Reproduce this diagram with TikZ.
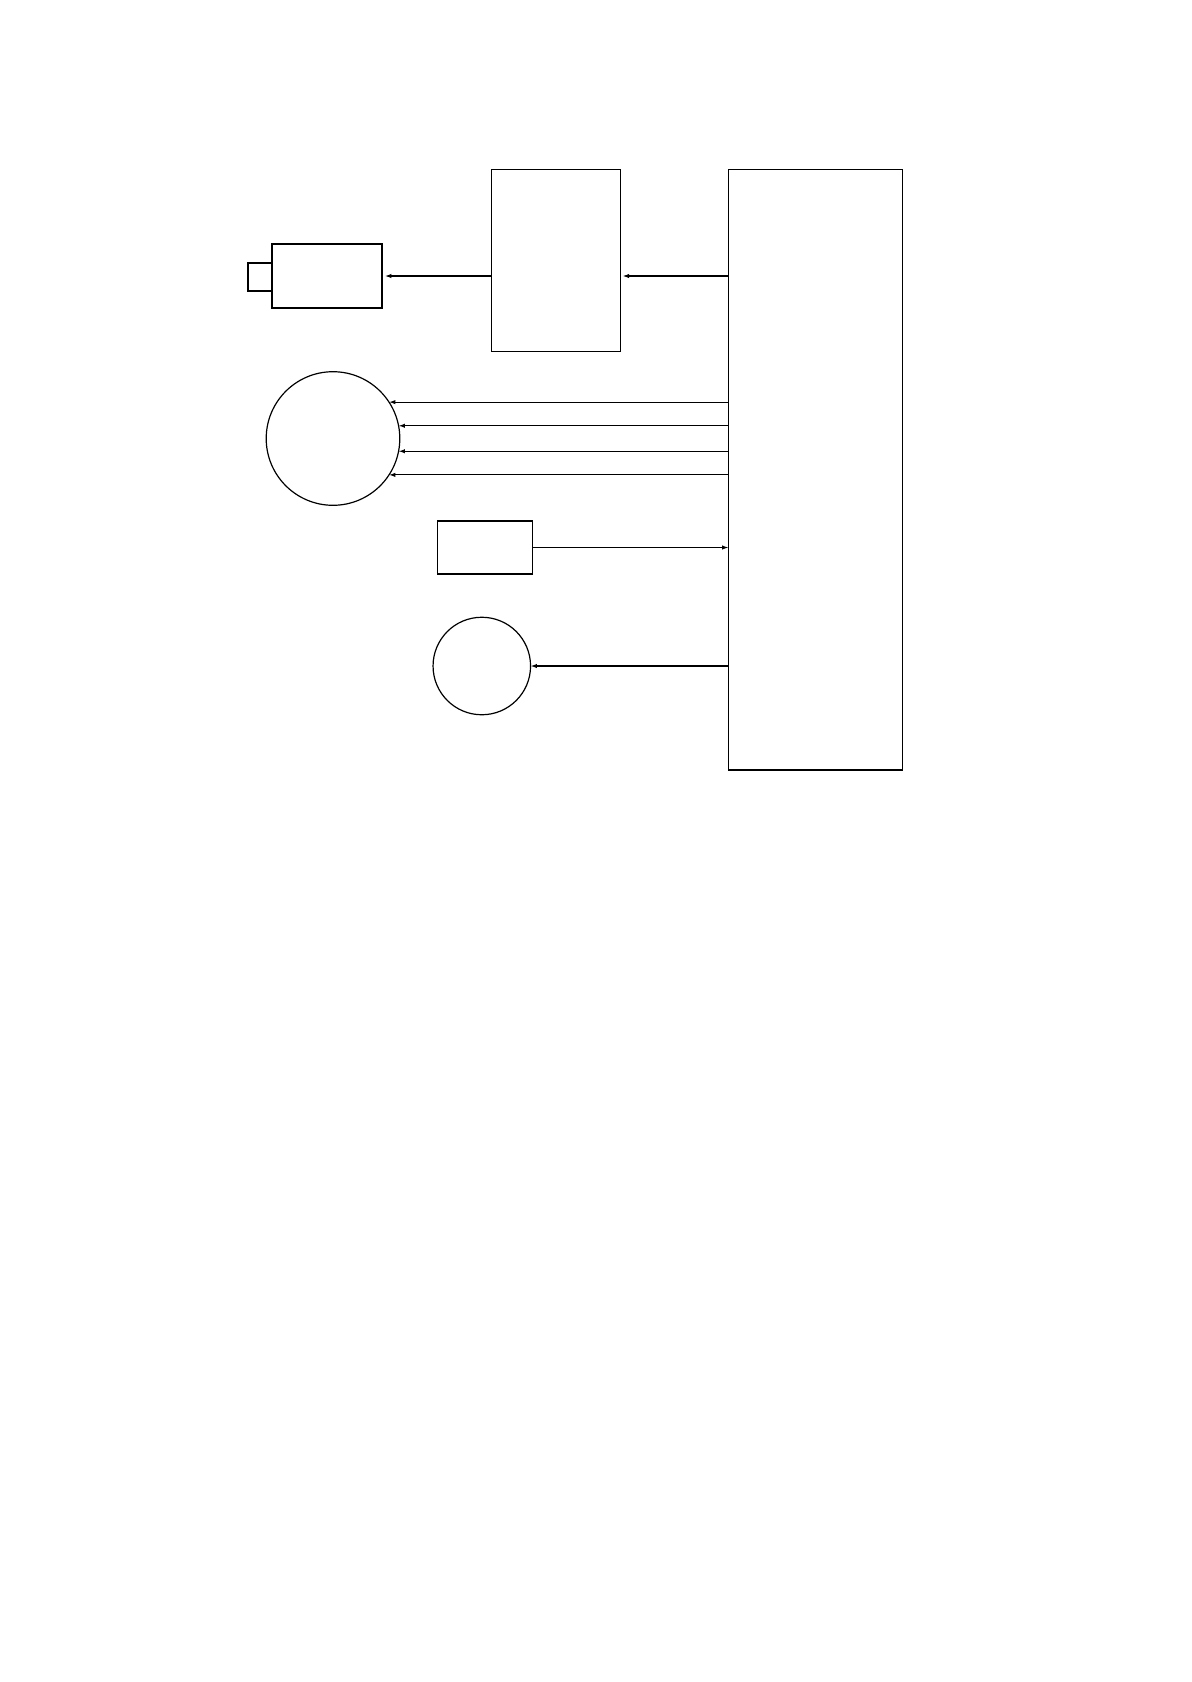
\documentclass[tikz,border=0pt]{standalone}
\usetikzlibrary{arrows.meta}
\begin{document}
\begin{tikzpicture}[x=0.5pt,y=-0.5pt,
  line width=0.6pt,
  blk/.style={draw,rectangle,inner sep=0pt,outer sep=0pt},
  rnd/.style={draw,circle,inner sep=0pt,outer sep=0pt},
  arr/.style={-{Latex[length=3.2pt,width=2.2pt]},line width=0.55pt}]
\path[use as bounding box] (0,0) rectangle (1192,1682);
% nodes
\node[blk,minimum width=64.7pt,minimum height=91pt] (bb) at (556,260.3) {};
\node[blk,minimum width=87pt,minimum height=300.35pt] (big) at (815.5,469.7) {};
\node[blk,minimum width=55pt,minimum height=32pt] (cam) at (327,276) {};
\node[rnd,minimum size=66.8pt] (c1) at (333,438.5) {};
\node[blk,minimum width=47.7pt,minimum height=26.5pt] (sm) at (485,547.5) {};
\node[rnd,minimum size=48.75pt] (c2) at (481.8,666) {};
% camera lens
\draw ([yshift=6.5pt]cam.west) -- ++(-24,0) -- ++(0,28) -- ++(24,0);
% connectors
\draw[arr] (bb.west |- cam.east) -- ([xshift=1.5pt]cam.east);
\draw[arr] (big.west |- cam.east) -- ([xshift=1pt]bb.east |- cam.east);
\draw[arr] (big.west |- c1.33.8) -- (c1.33.8);
\draw[arr] (big.west |- c1.11.4) -- (c1.11.4);
\draw[arr] (big.west |- c1.-11.0) -- (c1.-11.0);
\draw[arr] (big.west |- c1.-33.4) -- (c1.-33.4);
\draw[arr] (sm.east) -- (sm.east -| big.west);
\draw[arr] (big.west |- c2.east) -- (c2.east);
\end{tikzpicture}
\end{document}
